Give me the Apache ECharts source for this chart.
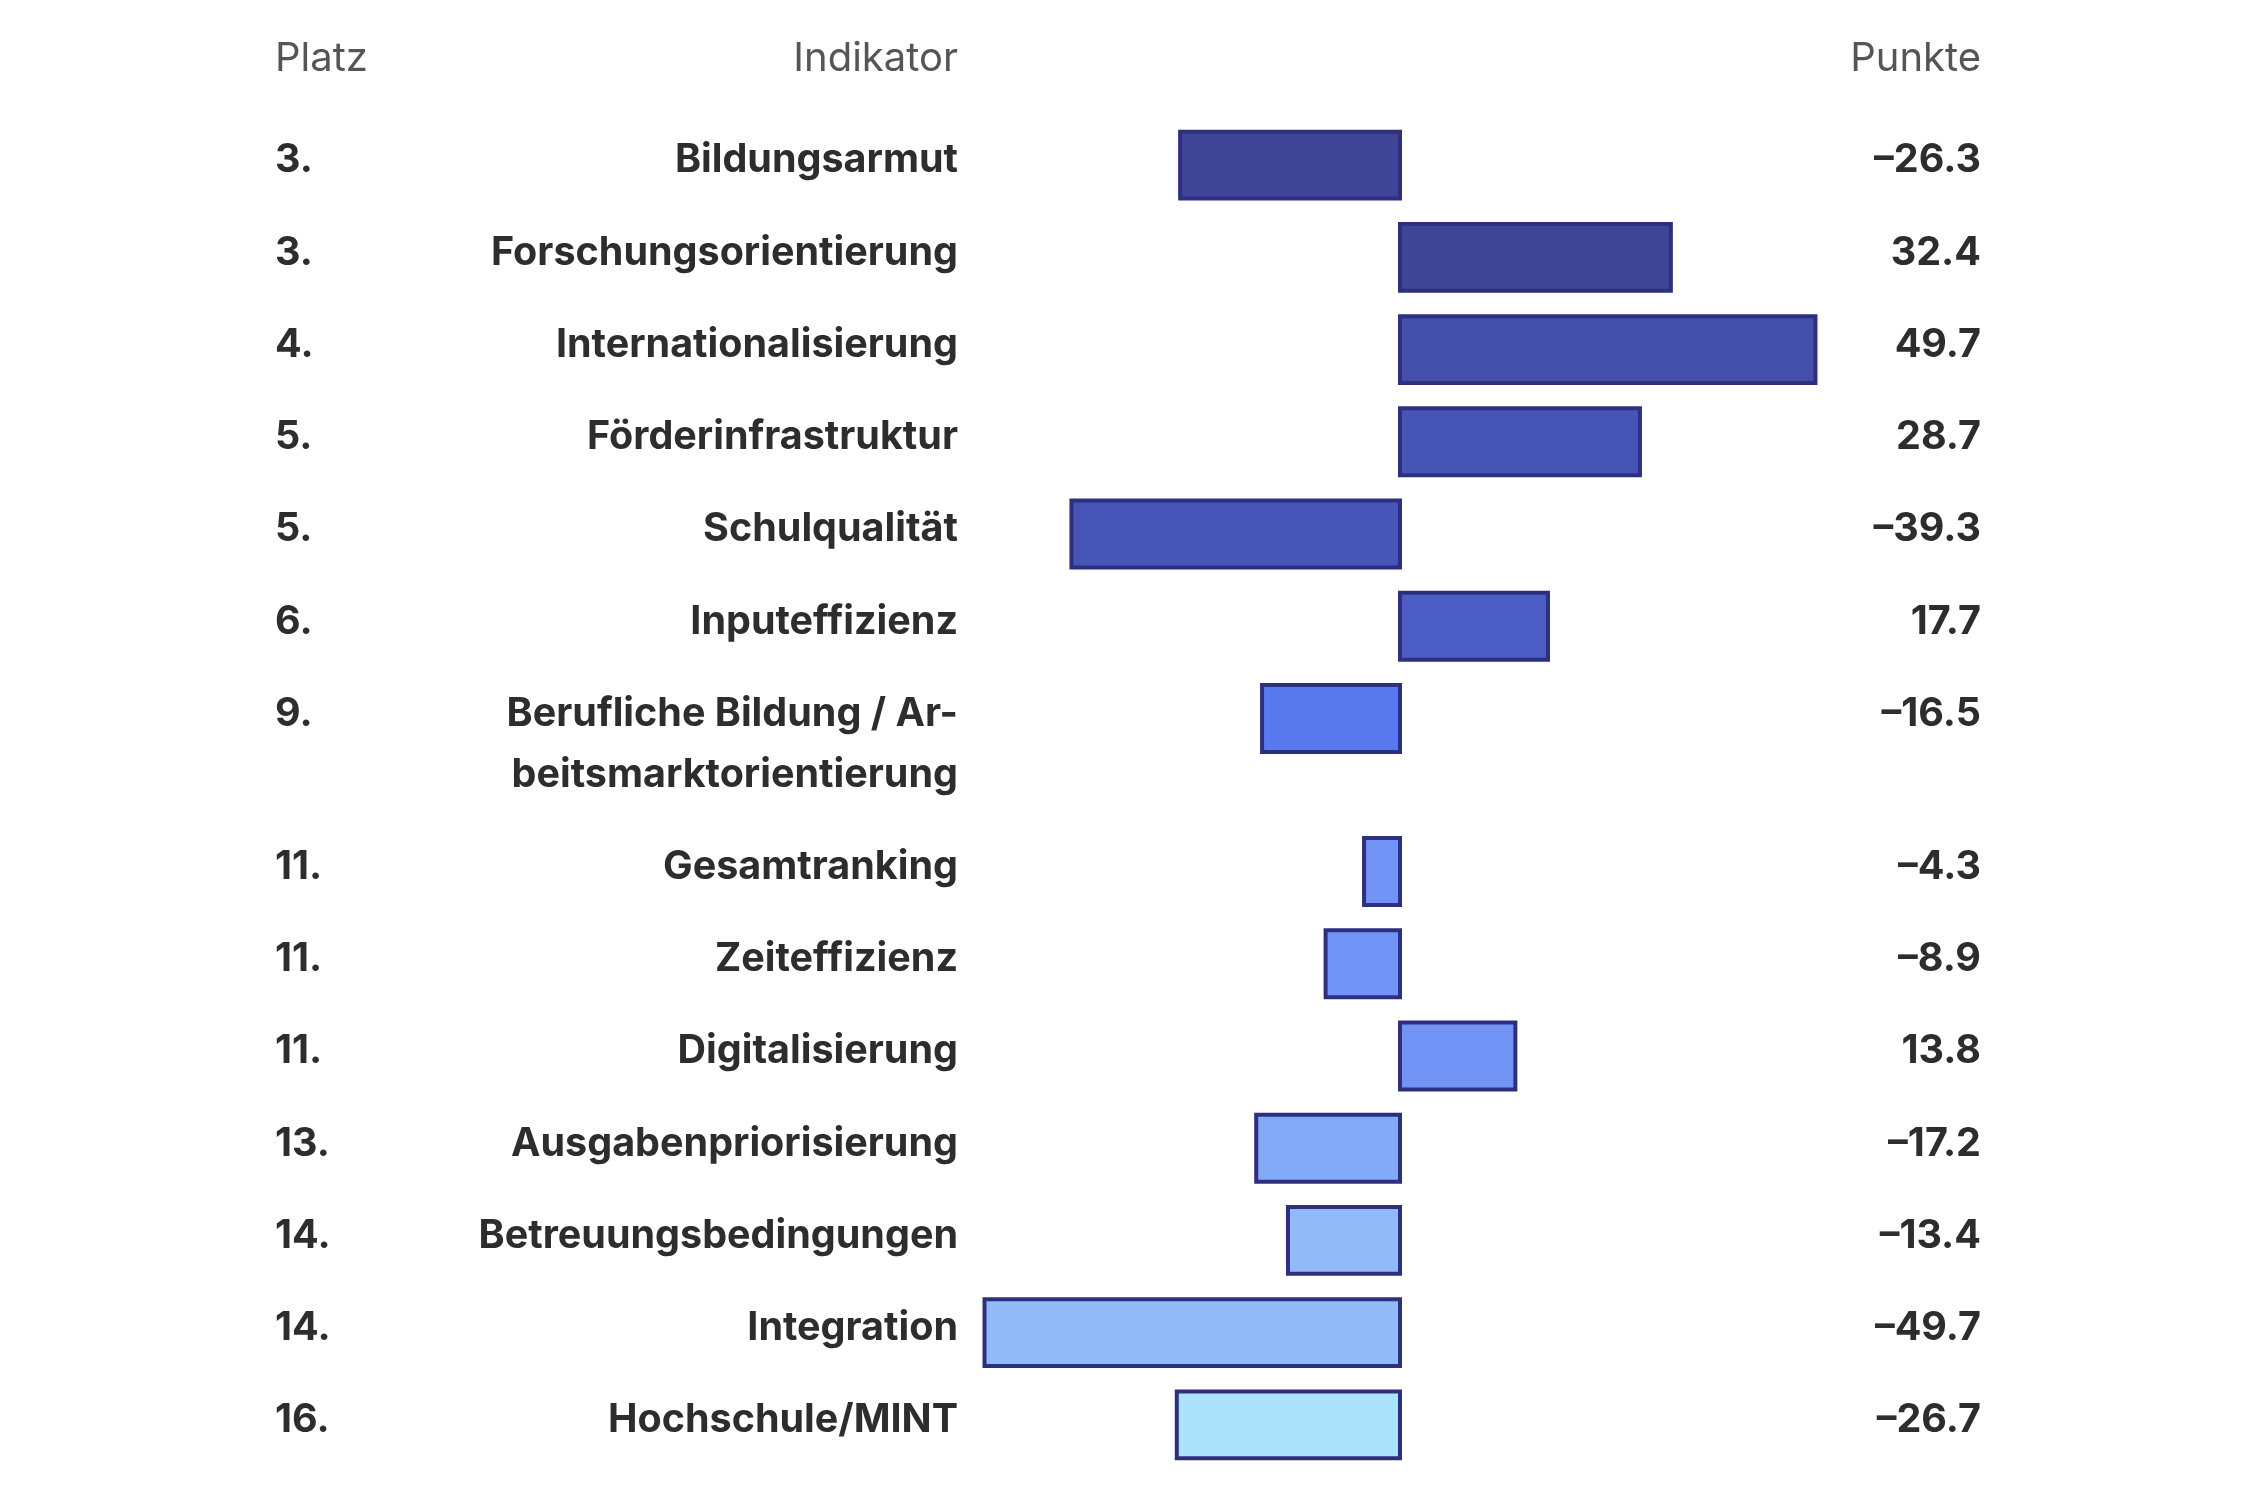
<!DOCTYPE html>
<html>
<head>
<meta charset="utf-8">
<script src="https://cdn.jsdelivr.net/npm/echarts@6.0.0/dist/echarts.min.js"></script>
<style>
  html, body { margin: 0; padding: 0; background: #fff; }
  #chart { width: 2250px; height: 1500px; }
</style>
</head>
<body>
<div id="chart"></div>
<script>
// Werte aus der Grafik
var platz = ['3.', '3.', '4.', '5.', '5.', '6.', '9.', '11.', '11.', '11.', '13.', '14.', '14.', '16.'];
var indikatoren = [
  'Bildungsarmut',
  'Forschungsorientierung',
  'Internationalisierung',
  'Förderinfrastruktur',
  'Schulqualität',
  'Inputeffizienz',
  'Berufliche Bildung / Ar-\nbeitsmarktorientierung',
  'Gesamtranking',
  'Zeiteffizienz',
  'Digitalisierung',
  'Ausgabenpriorisierung',
  'Betreuungsbedingungen',
  'Integration',
  'Hochschule/MINT'
];
var punkte = [-26.3, 32.4, 49.7, 28.7, -39.3, 17.7, -16.5, -4.3, -8.9, 13.8, -17.2, -13.4, -49.7, -26.7];
var kopfzeile = ['Platz', 'Indikator', 'Punkte'];

// Farben je Zeile
var farben = ['#3e4597', '#3e4597', '#434fa8', '#4655b5', '#4755b6', '#4c5ec6', '#5b79ee',
  '#7294f6', '#7294f6', '#7294f6', '#82aaf6', '#92b9f8', '#92b9f8', '#ace3fc'];
var rahmen = '#2e2f7f';
var textfarbe = '#2d2d2d';
var schrift = 'Inter, "Noto Sans", sans-serif';

// Zeilenposition: mehrzeilige Beschriftungen brauchen etwas mehr Platz
var zeilen = [];
var pos = 0;
for (var i = 0; i < indikatoren.length; i++) {
  zeilen.push([punkte[i], pos, i]);
  pos += 1 + (indikatoren[i].split('\n').length - 1) * 0.66;
}
var letzte = pos - 1;

var chart = echarts.init(document.getElementById('chart'));

function renderZeile(params, api) {
  var wert = api.value(0);
  var slot = api.value(1);
  var idx = api.value(2);
  var p0 = api.coord([0, slot]);
  var p1 = api.coord([wert, slot]);
  var h = api.size([0, 0.725])[1];
  var lh = 61;
  var ty = p0[1] - 4.5 - lh / 2;
  var wertText = wert.toFixed(1).replace('-', '–');
  var fett = 'bold 39.5px ' + schrift;
  return {
    type: 'group',
    children: [
      {
        type: 'rect',
        shape: { x: Math.min(p0[0], p1[0]), y: p0[1] - h / 2, width: Math.abs(p1[0] - p0[0]), height: h },
        style: { fill: farben[idx], stroke: rahmen, lineWidth: 4 }
      },
      {
        type: 'text',
        style: { text: platz[idx], x: 275, y: ty, fill: textfarbe, font: fett,
          align: 'left', verticalAlign: 'top', lineHeight: lh }
      },
      {
        type: 'text',
        style: { text: indikatoren[idx], x: 958, y: ty, fill: textfarbe, font: fett,
          align: 'right', verticalAlign: 'top', lineHeight: lh }
      },
      {
        type: 'text',
        style: { text: wertText, x: 1981, y: ty, fill: textfarbe, font: fett,
          align: 'right', verticalAlign: 'top', lineHeight: lh }
      }
    ]
  };
}

var option = {
  backgroundColor: '#ffffff',
  animation: false,
  grid: { left: 982, right: 432, top: 119, bottom: 29 },
  xAxis: {
    type: 'value', min: -50, max: 50,
    show: false
  },
  yAxis: {
    type: 'value', inverse: true, min: -0.5, max: letzte + 0.5,
    show: false
  },
  graphic: [
    { type: 'text', left: 275, top: 39, style: { text: kopfzeile[0], fill: '#555', font: '40px ' + schrift } },
    { type: 'text', right: 2250 - 958, top: 39, style: { text: kopfzeile[1], fill: '#555', font: '40px ' + schrift } },
    { type: 'text', right: 2250 - 1981, top: 39, style: { text: kopfzeile[2], fill: '#555', font: '40px ' + schrift } }
  ],
  series: [{
    type: 'custom',
    clip: false,
    renderItem: renderZeile,
    encode: { x: 0, y: 1 },
    data: zeilen
  }]
};
chart.setOption(option);
</script>
</body>
</html>
